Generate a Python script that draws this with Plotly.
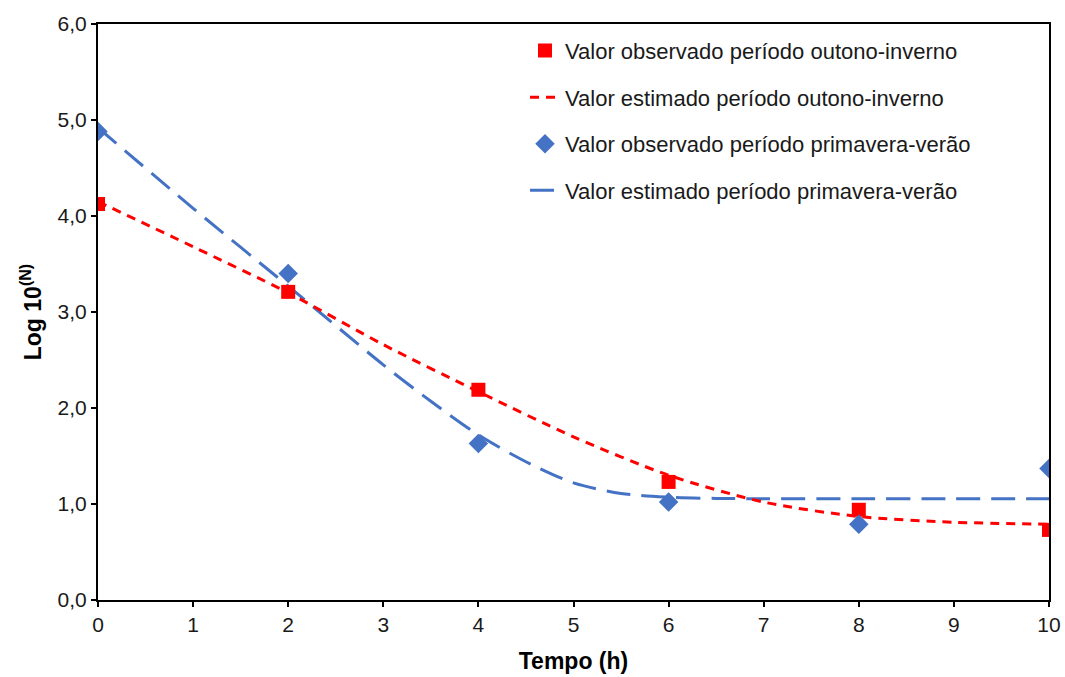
import plotly.graph_objects as go

# Observed values (log10 N) at each sampling time
tempo_obs = [0, 2, 4, 6, 8, 10]
obs_outono = [4.125, 3.21, 2.19, 1.23, 0.94, 0.73]
obs_primavera = [4.88, 3.40, 1.63, 1.02, 0.79, 1.37]

# Fitted curves
tempo_est_outono = [0, 1, 2, 3, 4, 5, 6, 7, 8, 9, 10]
est_outono = [4.15, 3.68, 3.20, 2.66, 2.17, 1.70, 1.30, 1.02, 0.87, 0.81, 0.79]

tempo_est_primavera = [0, 1, 2, 3, 3.5, 4, 4.5, 5, 5.5, 6, 6.5, 7, 8, 9, 10]
est_primavera = [4.92, 4.08, 3.27, 2.45, 2.07, 1.72, 1.44, 1.22, 1.11, 1.07,
                 1.058, 1.055, 1.055, 1.055, 1.055]

x_ticks = list(range(0, 11))
y_ticks = [0, 1, 2, 3, 4, 5, 6]

RED = "#FF0000"
BLUE = "#4472C4"
FONT = "Arial, 'Liberation Sans', sans-serif"

fig = go.Figure()

# fitted lines first so the observed markers sit on top
fig.add_trace(go.Scatter(
    x=tempo_est_primavera, y=est_primavera, mode="lines",
    name="Valor estimado período primavera-verão",
    line=dict(color=BLUE, width=3, dash="24px,11px", shape="spline", smoothing=0.8),
    legendgroup="d", legendrank=4,
))
fig.add_trace(go.Scatter(
    x=tempo_est_outono, y=est_outono, mode="lines",
    name="Valor estimado período outono-inverno",
    line=dict(color=RED, width=3, dash="9px,7px", shape="spline", smoothing=0.8),
    legendgroup="b", legendrank=2,
))
fig.add_trace(go.Scatter(
    x=tempo_obs, y=obs_outono, mode="markers",
    name="Valor observado período outono-inverno",
    marker=dict(symbol="square", size=14, color=RED),
    legendgroup="a", legendrank=1,
))
fig.add_trace(go.Scatter(
    x=tempo_obs, y=obs_primavera, mode="markers",
    name="Valor observado período primavera-verão",
    marker=dict(symbol="diamond", size=15, color=BLUE),
    legendgroup="c", legendrank=3,
))

axis_common = dict(
    showline=True, linecolor="black", linewidth=2, mirror=True,
    ticks="outside", ticklen=5, tickwidth=1.5, tickcolor="black",
    showgrid=False, zeroline=False, automargin=False,
    tickfont=dict(family=FONT, size=21, color="#1a1a1a"),
)

fig.update_xaxes(
    range=[0, 10], tickvals=x_ticks,
    title=dict(text="<b>Tempo (h)</b>", font=dict(family=FONT, size=23, color="black"), standoff=18),
    **axis_common,
)
fig.update_yaxes(
    range=[0, 6], tickvals=y_ticks, tickformat=".1f",
    title=dict(text="<b>Log 10<sup>(N)</sup></b>", font=dict(family=FONT, size=23, color="black"), standoff=10),
    **axis_common,
)

fig.update_layout(
    width=1065, height=677,
    margin=dict(l=98, r=16, t=24, b=77),
    paper_bgcolor="white", plot_bgcolor="white",
    separators=",.",
    legend=dict(
        x=0.449, y=0.99, xanchor="left", yanchor="top",
        font=dict(family=FONT, size=22, color="#1a1a1a"),
        traceorder="grouped", tracegroupgap=15,
        bgcolor="rgba(0,0,0,0)",
    ),
    showlegend=True,
)

fig.write_html("out.html")
